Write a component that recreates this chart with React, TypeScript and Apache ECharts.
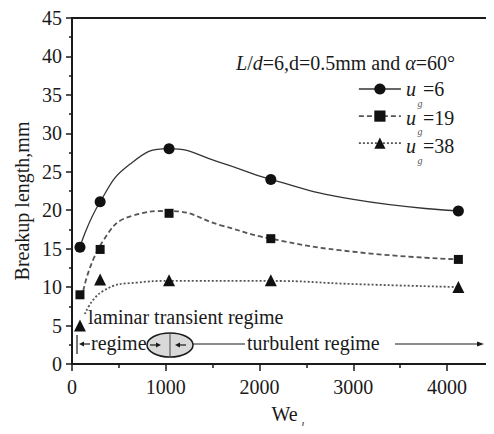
import React, { useEffect, useRef } from "react";
import * as echarts from "echarts";

// measured data points
const weValues = [85, 300, 1035, 2120, 4120];
const ug6 = [15.2, 21.1, 28.0, 24.0, 19.9];
const ug19 = [9.0, 14.9, 19.6, 16.3, 13.6];
const ug38 = [5.0, 11.0, 10.9, 10.9, 10.0];

// fitted curves
const fit6X = [85, 300, 620, 1035, 1560, 2120, 3000, 4120];
const fit6Y = [15.2, 21.1, 26.0, 28.0, 26.3, 24.0, 21.4, 19.9];
const fit19X = [120, 331, 648, 1035, 1600, 2120, 3000, 4120];
const fit19Y = [9.5, 16.0, 19.3, 19.9, 18.0, 16.3, 14.6, 13.6];
const fit38X = [137, 331, 700, 1035, 2120, 3000, 4120];
const fit38Y = [6.5, 9.5, 10.6, 10.8, 10.8, 10.4, 10.0];

const seriesNames = ["ug=6", "ug=19", "ug=38"];
const legendValues = ["=6", "=19", "=38"];

const FONT = '"Liberation Serif", "Times New Roman", serif';
const INK = "#1a1a1a";

const zip = (xs: number[], ys: number[]) => xs.map((x, i) => [x, ys[i]]);

export default function App() {
  const ref = useRef<HTMLDivElement>(null);
  useEffect(() => {
    if (!ref.current) return;
    const chart = echarts.init(ref.current, undefined, { renderer: "svg" });
    const axisLineStyle = { color: INK, width: 2 };
    const lineStyles = [
      { type: "solid", width: 1.3, color: "#333" },
      { type: [5, 3], width: 1.8, color: "#555" },
      { type: [2, 2], width: 1.8, color: "#555" },
    ];
    const symbols = ["circle", "rect", "triangle"];
    const symbolSizes = [11, 9, 12];
    const pts = [ug6, ug19, ug38];
    const fits = [zip(fit6X, fit6Y), zip(fit19X, fit19Y), zip(fit38X, fit38Y)];

    const series: any[] = [];
    fits.forEach((f, i) => {
      series.push({
        name: "fit" + i,
        type: "line",
        data: f,
        smooth: 0.5,
        symbol: "none",
        silent: true,
        lineStyle: lineStyles[i],
        z: 2,
      });
    });
    pts.forEach((p, i) => {
      series.push({
        name: seriesNames[i],
        type: "line",
        data: zip(weValues, p),
        symbol: symbols[i],
        symbolSize: symbolSizes[i],
        itemStyle: { color: "#111" },
        lineStyle: { width: 0, opacity: 0 },
        z: 3,
      });
    });

    const rowY = [89, 117.5, 146];
    const graphic: any[] = [
      {
        type: "text",
        x: 22,
        y: 201,
        rotation: Math.PI / 2,
        style: {
          text: "Breakup length,mm",
          fontFamily: FONT,
          fontSize: 20,
          fill: INK,
          align: "center",
          verticalAlign: "middle",
        },
      },
      {
        type: "text",
        x: 301,
        y: 425,
        style: { text: "l", fontFamily: FONT, fontSize: 11, fontStyle: "italic", fill: "#333", align: "left", verticalAlign: "middle" },
      },
      {
        type: "text",
        x: 455,
        y: 63,
        style: {
          text: "{i|L}{n|/}{i|d}{n|=6,d=0.5mm and }{i|α}{n|=60°}",
          fontFamily: FONT,
          fontSize: 20,
          fill: INK,
          align: "right",
          verticalAlign: "middle",
          rich: {
            i: { fontFamily: FONT, fontSize: 20, fontStyle: "italic", fill: INK },
            n: { fontFamily: FONT, fontSize: 20, fill: INK },
          },
        },
      },
    ];
    rowY.forEach((y, i) => {
      graphic.push({
        type: "text",
        x: 406,
        y,
        style: { text: "u", fontFamily: FONT, fontSize: 20, fontStyle: "italic", fill: INK, verticalAlign: "middle" },
      });
      graphic.push({
        type: "text",
        x: 417.5,
        y: y + 14,
        style: { text: "g", fontFamily: FONT, fontSize: 10, fontStyle: "italic", fill: "#555", verticalAlign: "middle" },
      });
      graphic.push({
        type: "text",
        x: 423,
        y,
        style: { text: legendValues[i], fontFamily: FONT, fontSize: 20, fill: INK, verticalAlign: "middle" },
      });
    });

    // regime annotations
    const annStyle = { fontFamily: FONT, fontSize: 20, fill: INK, verticalAlign: "middle" };
    const stroke = { stroke: INK, lineWidth: 1.2 };
    graphic.push(
      { type: "text", x: 88, y: 317, style: { ...annStyle, text: "laminar transient regime" } },
      { type: "text", x: 91, y: 343, style: { ...annStyle, text: "regime" } },
      { type: "text", x: 247, y: 343, style: { ...annStyle, text: "turbulent regime" } },
      { type: "line", shape: { x1: 77, y1: 335, x2: 77, y2: 354 }, style: stroke },
      { type: "line", shape: { x1: 81, y1: 344, x2: 90, y2: 344 }, style: stroke },
      { type: "polygon", shape: { points: [[79, 344], [84, 341.5], [84, 346.5]] }, style: { fill: INK } },
      {
        type: "ellipse",
        shape: { cx: 170, cy: 345, rx: 23, ry: 12 },
        style: { fill: "#d9d9d9", stroke: INK, lineWidth: 1.5 },
      },
      { type: "line", shape: { x1: 170, y1: 333, x2: 170, y2: 357 }, style: { stroke: "#444", lineWidth: 1 } },
      { type: "line", shape: { x1: 150, y1: 345, x2: 157, y2: 345 }, style: stroke },
      { type: "polygon", shape: { points: [[161, 345], [156, 342.5], [156, 347.5]] }, style: { fill: INK } },
      { type: "line", shape: { x1: 179, y1: 345, x2: 186, y2: 345 }, style: stroke },
      { type: "polygon", shape: { points: [[175, 345], [180, 342.5], [180, 347.5]] }, style: { fill: INK } },
      { type: "line", shape: { x1: 193, y1: 344, x2: 245, y2: 344 }, style: stroke },
      { type: "line", shape: { x1: 395, y1: 344, x2: 479, y2: 344 }, style: stroke },
      { type: "polygon", shape: { points: [[484, 344], [477, 341.5], [477, 346.5]] }, style: { fill: INK } },
      { type: "line", shape: { x1: 492, y1: 335, x2: 492, y2: 355 }, style: { stroke: "#555", lineWidth: 1.2 } }
    );

    chart.setOption({
      animation: false,
      backgroundColor: "#fff",
      grid: { left: 72, right: -4, top: 18, bottom: 70, containLabel: false },
      legend: {
        orient: "vertical",
        left: 358,
        top: 82,
        padding: 0,
        itemWidth: 42,
        itemHeight: 14,
        itemGap: 14.5,
        selectedMode: false,
        formatter: () => "",
        data: seriesNames.map((n, i) => ({
          name: n,
          lineStyle: { ...lineStyles[i], opacity: 1 },
        })),
      },
      xAxis: [
        {
          type: "value",
          min: 0,
          max: 4500,
          interval: 1000,
          name: "We",
          nameLocation: "middle",
          nameGap: 40,
          nameTextStyle: { fontFamily: FONT, fontSize: 20, color: INK, padding: [0, 0, 0, 3] },
          axisLine: { show: true, onZero: false, lineStyle: axisLineStyle },
          axisTick: { show: true, length: 7, lineStyle: { color: INK, width: 1.5 } },
          minorTick: { show: true, splitNumber: 2, length: 4, lineStyle: { color: INK, width: 1.5 } },
          axisLabel: {
            fontFamily: FONT,
            fontSize: 20,
            color: INK,
            margin: 13,
            showMaxLabel: false,
            formatter: (v: number) => String(v),
          },
          splitLine: { show: false },
        },
        {
          type: "value",
          min: 0,
          max: 4500,
          position: "top",
          axisLine: { show: true, onZero: false, lineStyle: axisLineStyle },
          axisTick: { show: false },
          axisLabel: { show: false },
          splitLine: { show: false },
        },
      ],
      yAxis: {
        type: "value",
        min: 0,
        max: 45,
        interval: 5,
        axisLine: { show: true, lineStyle: axisLineStyle },
        axisTick: { show: true, length: 6, lineStyle: { color: INK, width: 1.5 } },
        minorTick: { show: true, splitNumber: 2, length: 3, lineStyle: { color: INK, width: 1.5 } },
        axisLabel: { fontFamily: FONT, fontSize: 20, color: INK, margin: 10 },
        splitLine: { show: false },
      },
      series,
      graphic,
    });
    return () => chart.dispose();
  }, []);
  return <div ref={ref} style={{ width: 494, height: 434, margin: -8 }} />;
}
